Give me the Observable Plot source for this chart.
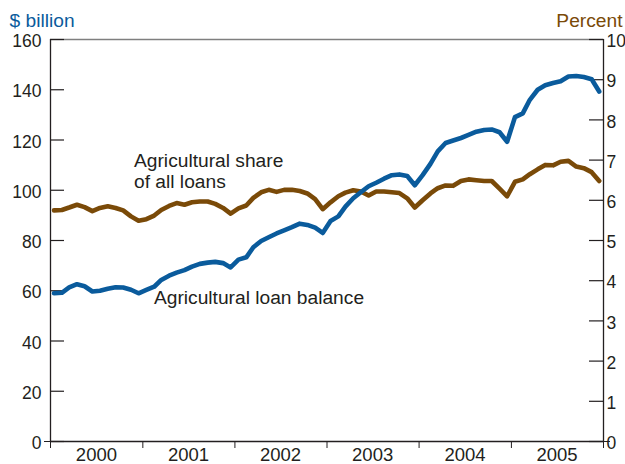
<!DOCTYPE html>
<html><head><meta charset="utf-8">
<script src="https://cdn.jsdelivr.net/npm/d3@7"></script>
<script src="https://cdn.jsdelivr.net/npm/@observablehq/plot@0.6"></script>
<style>body{margin:0;background:#fff}</style>
</head><body><div id="chart"></div>
<script>
// Monthly data, Jan 2000 – Dec 2005
const years = ["2000", "2001", "2002", "2003", "2004", "2005"];
const loanBalance = [ // $ billion
  59.0, 59.2, 61.3, 62.6, 61.8, 59.7, 60.0, 60.8, 61.4, 61.3, 60.4, 59.0,
  60.3, 61.6, 64.3, 66.0, 67.2, 68.2, 69.6, 70.7, 71.2, 71.5, 71.0, 69.3,
  72.4, 73.3, 77.3, 79.8, 81.3, 82.8, 84.0, 85.3, 86.7, 86.2, 85.1, 83.0,
  87.8, 89.6, 93.5, 96.8, 99.2, 101.6, 103.0, 104.6, 106.0, 106.3, 105.7, 102.0,
  106.0, 110.5, 115.5, 118.8, 119.8, 120.8, 122.0, 123.3, 124.0, 124.2, 123.1, 119.3,
  129.1, 130.6, 136.0, 140.0, 141.8, 142.7, 143.4, 145.3, 145.5, 145.1, 144.2, 139.3
];
const agShare = [ // percent of all loans
  5.75, 5.76, 5.82, 5.89, 5.83, 5.73, 5.81, 5.85, 5.81, 5.75, 5.60, 5.49,
  5.53, 5.62, 5.76, 5.86, 5.93, 5.89, 5.95, 5.97, 5.97, 5.91, 5.81, 5.67,
  5.80, 5.87, 6.06, 6.20, 6.26, 6.21, 6.26, 6.26, 6.23, 6.17, 6.03, 5.78,
  5.95, 6.10, 6.19, 6.25, 6.22, 6.12, 6.22, 6.22, 6.20, 6.18, 6.05, 5.82,
  6.00, 6.17, 6.30, 6.37, 6.36, 6.48, 6.52, 6.50, 6.48, 6.48, 6.29, 6.10,
  6.46, 6.52, 6.65, 6.77, 6.88, 6.87, 6.96, 6.98, 6.84, 6.80, 6.70, 6.48
];
const leftTicks = [0, 20, 40, 60, 80, 100, 120, 140, 160];
const rightTicks = [0, 1, 2, 3, 4, 5, 6, 7, 8, 9, 10];

const SCALE = 16; // 10 percent on the right axis == 160 $ billion on the left
const start = new Date(Date.UTC(2000, 0, 1));
const end = new Date(Date.UTC(2006, 0, 1));
const months = d3.utcMonth.range(start, end).map(d => d3.utcDay.offset(d, 14));
const data = months.map((date, i) => ({date, loan: loanBalance[i], share: agShare[i]}));
const yearBounds = d3.utcYear.range(start, d3.utcDay.offset(end, 1));
const yearMids = years.map(y => new Date(Date.UTC(+y, 6, 1)));
const rightTickValues = rightTicks.map(d => d * SCALE);

const BLUE = "#0a5b9c";
const BROWN = "#7a4a08";
const INK = "#231f20";

const chart = Plot.plot({
  width: 625, height: 464,
  marginLeft: 50, marginRight: 22, marginTop: 39, marginBottom: 23,
  style: {fontFamily: "'Liberation Sans', Arial, Helvetica, sans-serif", fontSize: "18px", color: INK, background: "white", overflow: "visible"},
  x: {type: "utc", domain: [start, end]},
  y: {domain: [0, 160]},
  marks: [
    Plot.ruleY([160], {stroke: "#7f7f7f", strokeWidth: 1.3}),
    // inward ticks
    Plot.axisY(leftTicks, {anchor: "left", tickSize: 14, dx: 14, tickFormat: () => "", label: null, stroke: INK, strokeWidth: 1.2}),
    Plot.axisY(rightTickValues, {anchor: "right", tickSize: 15, dx: -15, tickFormat: () => "", label: null, stroke: INK, strokeWidth: 1.2}),
    // tick labels
    Plot.axisY(leftTicks, {anchor: "left", tickSize: 0, tickPadding: 9, dy: 2, fontSize: 17.5, label: null, fill: INK}),
    Plot.axisY(rightTickValues, {anchor: "right", tickSize: 0, tickPadding: 3, dy: 2, fontSize: 17.5, tickFormat: d => d / SCALE, label: null, fill: INK}),
    // small outward ticks at zero
    Plot.axisY([0], {anchor: "left", tickSize: 6, tickFormat: () => "", label: null, stroke: INK}),
    Plot.axisY([0], {anchor: "right", tickSize: 6, tickFormat: () => "", label: null, stroke: INK}),
    Plot.axisX(yearBounds, {anchor: "bottom", tickSize: 7, tickFormat: () => "", label: null, stroke: INK}),
    Plot.axisX(yearMids, {anchor: "bottom", tickSize: 0, tickPadding: 6, fontSize: 18.5, tickFormat: d3.utcFormat("%Y"), label: null, fill: INK}),
    Plot.ruleX([start, end], {stroke: INK, strokeWidth: 1.3}),
    Plot.ruleY([0], {stroke: INK, strokeWidth: 1.3}),
    Plot.line(data, {x: "date", y: d => d.share * SCALE, stroke: BROWN, strokeWidth: 4.6}),
    Plot.line(data, {x: "date", y: "loan", stroke: BLUE, strokeWidth: 4.6}),
    Plot.text(["Agricultural share\nof all loans"], {x: new Date(Date.UTC(2000, 10, 27)), y: 115.3, textAnchor: "start", lineAnchor: "top", lineHeight: 1.1, fill: INK, fontSize: 19.2}),
    Plot.text(["Agricultural loan balance"], {x: new Date(Date.UTC(2001, 1, 14)), y: 60.2, textAnchor: "start", lineAnchor: "top", fill: INK, fontSize: 19.2}),
    Plot.text(["$ billion"], {frameAnchor: "top-left", dx: -41, dy: -26, textAnchor: "start", lineAnchor: "top", fill: BLUE, fontSize: 19.2}),
    Plot.text(["Percent"], {frameAnchor: "top-right", dx: 19, dy: -26, textAnchor: "end", lineAnchor: "top", fill: BROWN, fontSize: 19.2})
  ]
});
document.getElementById("chart").appendChild(chart);
</script>
</body></html>
